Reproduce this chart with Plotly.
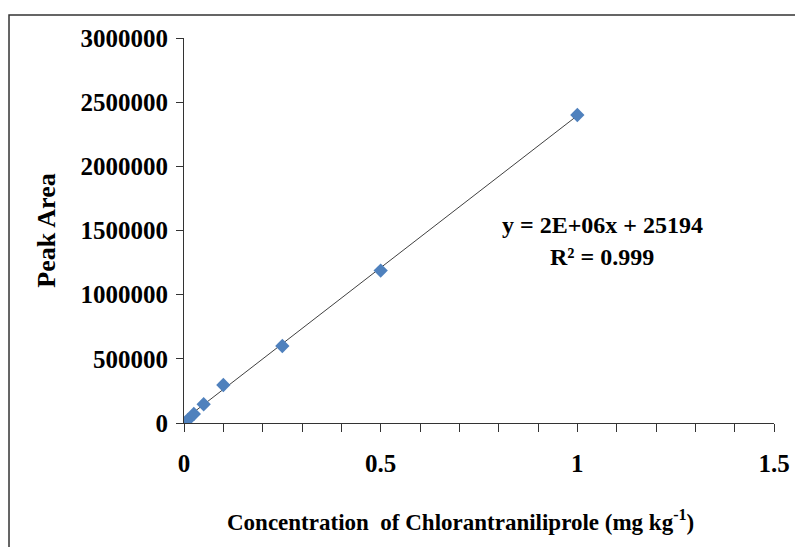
import plotly.graph_objects as go

# Calibration standards: concentration (mg/kg) vs. peak area
concentration = [0.01, 0.025, 0.05, 0.1, 0.25, 0.5, 1.0]
peak_area = [25000, 70000, 146000, 296000, 600000, 1188000, 2400000]

# Linear trendline parameters
trend_slope = 2.37e6
trend_intercept = 25194
r_squared = 0.999

x_ticks = [0, 0.5, 1, 1.5]
y_ticks = [0, 500000, 1000000, 1500000, 2000000, 2500000, 3000000]

serif = "Liberation Serif, Times New Roman, serif"

x_line = [min(concentration), max(concentration)]
y_line = [trend_slope * x + trend_intercept for x in x_line]

fig = go.Figure()
fig.add_trace(go.Scatter(
    x=x_line, y=y_line, mode="lines",
    line=dict(color="#404040", width=1),
    hoverinfo="skip", showlegend=False,
))
fig.add_trace(go.Scatter(
    x=concentration, y=peak_area, mode="markers",
    marker=dict(symbol="diamond", size=11, color="#4F81BD"),
    showlegend=False,
))

eq_font = dict(family=serif, size=24, color="black", weight="bold")
fig.add_annotation(
    x=0.709, y=0.515, xref="paper", yref="paper", xanchor="center", yanchor="middle",
    text="y = 2E+06x + 25194", showarrow=False, font=eq_font,
)
fig.add_annotation(
    x=0.709, y=0.432, xref="paper", yref="paper", xanchor="center", yanchor="middle",
    text="R² = %.3f" % r_squared, showarrow=False, font=eq_font,
)

# X-axis title
fig.add_annotation(
    x=0.468, y=-0.252, xref="paper", yref="paper", xanchor="center", yanchor="middle",
    text="Concentration  of Chlorantraniliprole (mg kg<sup>-1</sup>)", showarrow=False,
    font=dict(family=serif, size=23, color="black", weight="bold"),
)

# Outer frame (only top and left edges fall inside the canvas)
fig.add_shape(
    type="rect", xref="paper", yref="paper",
    x0=-0.2966, x1=1.2, y0=-0.5, y1=1.0597,
    line=dict(color="#333333", width=1.5), fillcolor="rgba(0,0,0,0)",
    layer="below",
)

fig.update_xaxes(
    range=[0, 1.5], tickvals=x_ticks, ticktext=["0", "0.5", "1", "1.5"],
    showgrid=False, zeroline=False, automargin=False,
    showline=True, linecolor="#333333", linewidth=1.2,
    ticks="outside", ticklen=8, tickcolor="#333333",
    minor=dict(dtick=0.1, ticks="outside", ticklen=8, tickcolor="#333333", showgrid=False),
    ticklabelstandoff=10,
    tickfont=dict(family=serif, size=25, color="black", weight="bold"),
)
fig.update_yaxes(
    range=[0, 3000000], tickvals=y_ticks, ticktext=[str(v) for v in y_ticks],
    showgrid=False, zeroline=False, automargin=False,
    showline=True, linecolor="#333333", linewidth=1.2,
    ticks="outside", ticklen=7, tickcolor="#333333",
    ticklabelstandoff=3,
    tickfont=dict(family=serif, size=25, color="black", weight="bold"),
    title=dict(
        text="Peak Area",
        font=dict(family=serif, size=26, color="black", weight="bold"),
        standoff=17,
    ),
)

fig.update_layout(
    width=795, height=547,
    margin=dict(l=184, r=21, t=38, b=124),
    paper_bgcolor="white", plot_bgcolor="white",
)

fig.write_html("out.html")
